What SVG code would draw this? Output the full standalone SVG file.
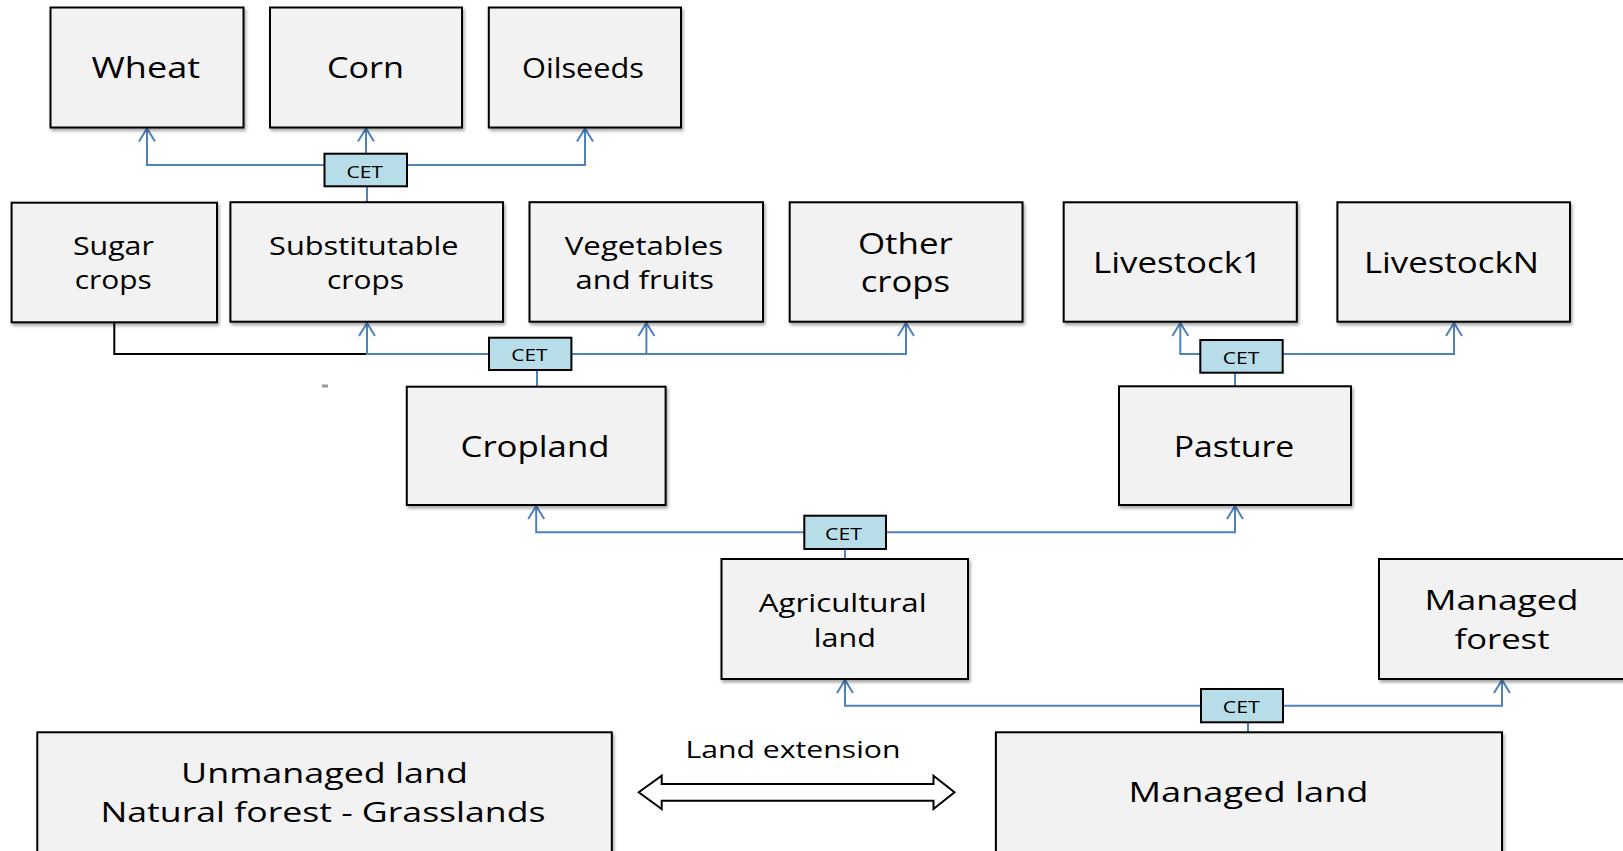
<svg xmlns="http://www.w3.org/2000/svg" width="1623" height="851" viewBox="0 0 1623 851">
<style>
.box{fill:#f2f2f2;stroke:#000;stroke-width:2;filter:url(#sh)}
.cet{fill:#b7dde8;stroke:#000;stroke-width:2}
.t{font-family:"Open Sans","Liberation Sans",sans-serif;fill:#000;text-anchor:middle}
.c{stroke:#4f81bd;stroke-width:2;fill:none}
.k{stroke:#000;stroke-width:2;fill:none}
</style>
<defs>
<filter id="sh" x="-5%" y="-5%" width="110%" height="115%">
<feDropShadow dx="1.5" dy="2.5" stdDeviation="1.5" flood-color="#000" flood-opacity="0.35"/>
</filter>
<marker id="ar" markerUnits="userSpaceOnUse" markerWidth="20" markerHeight="20" viewBox="-15 -10 17 20" refX="0" refY="0" orient="auto">
<path d="M-13,-8 L0,0 L-13,8" fill="none" stroke="#4f81bd" stroke-width="2"/>
</marker>
</defs>

<g id="connectors">
<path class="c" d="M367,202 V186.3"/>
<path class="c" d="M324.5,165 H147 V128.5" marker-end="url(#ar)"/>
<path class="c" d="M366,153.7 V128.5" marker-end="url(#ar)"/>
<path class="c" d="M407,165 H585 V128.5" marker-end="url(#ar)"/>

<path class="c" d="M537,370 V386.7"/>
<path class="k" d="M367,354 H114.3 V322.5"/>
<path class="c" d="M489,354 H367 V323" marker-end="url(#ar)"/>
<path class="c" d="M571.4,354 H906 V323" marker-end="url(#ar)"/>
<path class="c" d="M646.4,354 V323" marker-end="url(#ar)"/>

<path class="c" d="M1235,372.7 V386.3"/>
<path class="c" d="M1200.3,354 H1180.3 V323" marker-end="url(#ar)"/>
<path class="c" d="M1282.7,354 H1454 V323" marker-end="url(#ar)"/>

<path class="c" d="M845,549 V559"/>
<path class="c" d="M804.3,532.3 H536.2 V506" marker-end="url(#ar)"/>
<path class="c" d="M886,532.3 H1235 V506" marker-end="url(#ar)"/>

<path class="c" d="M1248,722.3 V732.3"/>
<path class="c" d="M1201,705.7 H845 V680" marker-end="url(#ar)"/>
<path class="c" d="M1283,705.7 H1502 V680" marker-end="url(#ar)"/>

<polygon points="638.7,792.3 661.7,775.7 661.7,784 933.5,784 933.5,775.7 954.5,792.3 933.5,809 933.5,800.7 661.7,800.7 661.7,809" fill="#fff" stroke="#000" stroke-width="2"/>
</g>

<rect x="322" y="384.5" width="6" height="3" fill="#999"/>

<g id="wheat"><rect class="box" x="50.5" y="7.5" width="193" height="120"/><text class="t" x="145.8" y="78.3" font-size="29" textLength="108.5" lengthAdjust="spacingAndGlyphs">Wheat</text></g>
<g id="corn"><rect class="box" x="270" y="7.5" width="192" height="120"/><text class="t" x="365.5" y="78.3" font-size="29" textLength="77" lengthAdjust="spacingAndGlyphs">Corn</text></g>
<g id="oilseeds"><rect class="box" x="488.8" y="7.5" width="192.2" height="120"/><text class="t" x="583" y="77.5" font-size="27" textLength="122" lengthAdjust="spacingAndGlyphs">Oilseeds</text></g>

<g id="cet1"><rect class="cet" x="324.5" y="153.7" width="82.5" height="32.6"/><text class="t" x="364.7" y="177.7" font-size="17" textLength="36.6" lengthAdjust="spacingAndGlyphs">CET</text></g>

<g id="sugar"><rect class="box" x="11.6" y="202.7" width="205.4" height="119.6"/><text class="t" x="113.4" y="255" font-size="26" textLength="81" lengthAdjust="spacingAndGlyphs">Sugar</text><text class="t" x="113.2" y="289" font-size="26" textLength="77" lengthAdjust="spacingAndGlyphs">crops</text></g>
<g id="substitutable"><rect class="box" x="230.4" y="202.2" width="272.6" height="119.5"/><text class="t" x="363.8" y="255" font-size="26" textLength="189.5" lengthAdjust="spacingAndGlyphs">Substitutable</text><text class="t" x="365.5" y="289" font-size="26" textLength="77" lengthAdjust="spacingAndGlyphs">crops</text></g>
<g id="vegetables"><rect class="box" x="529.5" y="202.2" width="233.5" height="119.5"/><text class="t" x="644" y="254.6" font-size="26" textLength="158.5" lengthAdjust="spacingAndGlyphs">Vegetables</text><text class="t" x="644.8" y="288.8" font-size="26" textLength="138.5" lengthAdjust="spacingAndGlyphs">and fruits</text></g>
<g id="other"><rect class="box" x="789.7" y="202.3" width="232.8" height="119.4"/><text class="t" x="905.4" y="254" font-size="29" textLength="95" lengthAdjust="spacingAndGlyphs">Other</text><text class="t" x="905.4" y="291.7" font-size="29" textLength="89.5" lengthAdjust="spacingAndGlyphs">crops</text></g>
<g id="livestock1"><rect class="box" x="1063.7" y="202.3" width="233.1" height="119.4"/><text class="t" x="1177.5" y="272.7" font-size="29" textLength="169" lengthAdjust="spacingAndGlyphs">Livestock1</text></g>
<g id="livestockN"><rect class="box" x="1337.4" y="202.3" width="232.6" height="119.4"/><text class="t" x="1451.4" y="272.7" font-size="29" textLength="175" lengthAdjust="spacingAndGlyphs">LivestockN</text></g>

<g id="cet2"><rect class="cet" x="489" y="337.7" width="82.4" height="32.3"/><text class="t" x="529.5" y="361" font-size="17" textLength="36.3" lengthAdjust="spacingAndGlyphs">CET</text></g>
<g id="cet3"><rect class="cet" x="1200.3" y="340" width="82.4" height="32.7"/><text class="t" x="1241" y="364.3" font-size="17" textLength="36.5" lengthAdjust="spacingAndGlyphs">CET</text></g>

<g id="cropland"><rect class="box" x="406.8" y="386.7" width="258.8" height="118.3"/><text class="t" x="535" y="457" font-size="29" textLength="149" lengthAdjust="spacingAndGlyphs">Cropland</text></g>
<g id="pasture"><rect class="box" x="1119" y="386.3" width="232" height="118.7"/><text class="t" x="1234" y="456.7" font-size="29" textLength="120.7" lengthAdjust="spacingAndGlyphs">Pasture</text></g>

<g id="cet4"><rect class="cet" x="804.3" y="515.7" width="81.7" height="33.3"/><text class="t" x="843.5" y="540" font-size="17" textLength="37" lengthAdjust="spacingAndGlyphs">CET</text></g>

<g id="agricultural"><rect class="box" x="721.5" y="559" width="246.5" height="120"/><text class="t" x="842.7" y="611.7" font-size="26" textLength="167.7" lengthAdjust="spacingAndGlyphs">Agricultural</text><text class="t" x="844.8" y="646.7" font-size="26" textLength="62" lengthAdjust="spacingAndGlyphs">land</text></g>
<g id="forest"><rect class="box" x="1379" y="559" width="260" height="120"/><text class="t" x="1501.5" y="610" font-size="28" textLength="154" lengthAdjust="spacingAndGlyphs">Managed</text><text class="t" x="1502" y="649.3" font-size="28" textLength="95" lengthAdjust="spacingAndGlyphs">forest</text></g>

<g id="cet5"><rect class="cet" x="1201" y="689" width="82" height="33.3"/><text class="t" x="1241.3" y="713.3" font-size="17" textLength="37" lengthAdjust="spacingAndGlyphs">CET</text></g>

<g id="unmanaged"><rect class="box" x="37.3" y="732.3" width="574.5" height="140"/><text class="t" x="324.5" y="783.3" font-size="28" textLength="287" lengthAdjust="spacingAndGlyphs">Unmanaged land</text><text class="t" x="323" y="821.7" font-size="28" textLength="445" lengthAdjust="spacingAndGlyphs">Natural forest - Grasslands</text></g>
<g id="managed"><rect class="box" x="995.9" y="732.3" width="506.1" height="140"/><text class="t" x="1248.5" y="801.7" font-size="28" textLength="240" lengthAdjust="spacingAndGlyphs">Managed land</text></g>

<g id="landext"><text class="t" x="793" y="758.3" font-size="24" textLength="215" lengthAdjust="spacingAndGlyphs">Land extension</text></g>
</svg>
